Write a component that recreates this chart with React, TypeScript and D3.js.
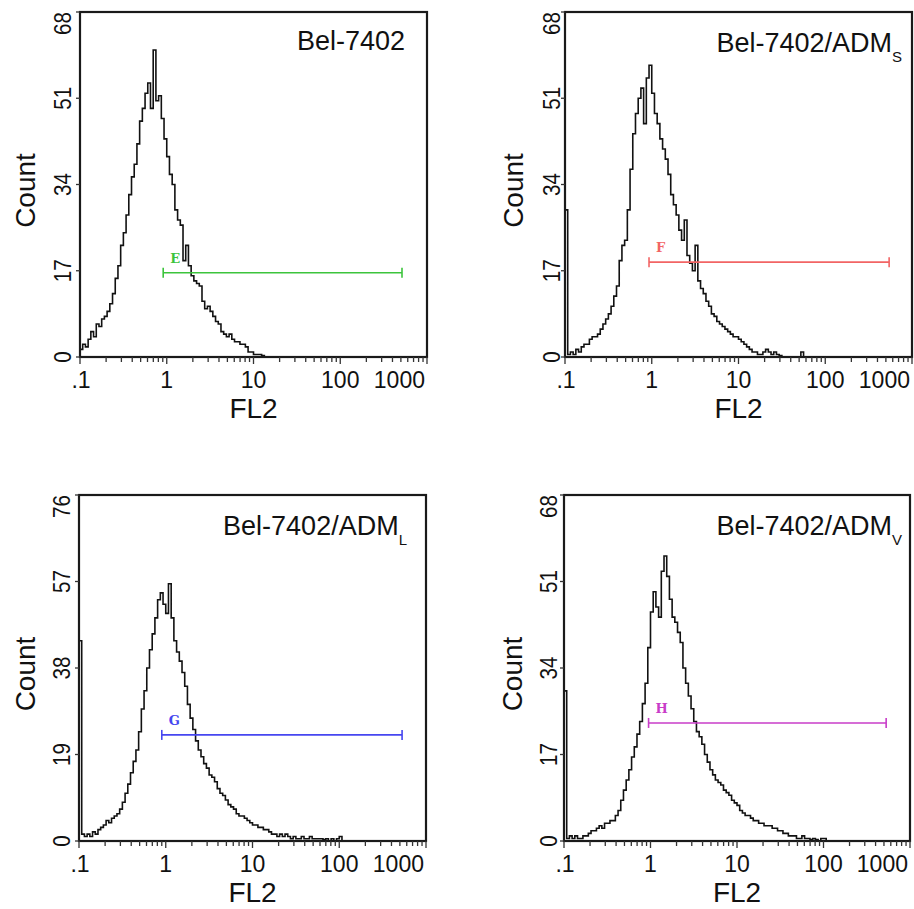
import React from "react";
import * as d3 from "d3";

// FL2 channels: 32 per decade, channel 0 sits at 0.1
const CH_PER_DECADE = 32;

// counts per channel
const countsBel7402 = [
  1.5, 2.5, 2, 3.5, 5, 4, 6.5, 6, 7.5, 8, 9, 10.5, 12.5, 15.5, 18, 22, 24.5, 28, 32, 35.5,
  38, 42, 46.5, 49, 52, 54, 49, 60.5, 50.5, 51.5, 47, 43, 39.5, 36, 34, 29, 27, 26, 19, 22,
  18, 16, 15, 14.5, 14, 11, 9.5, 10, 9, 8, 7, 6.5, 5, 4.5, 4, 4.5, 3.5, 3, 3, 2.5,
  2.5, 2, 1, 1, 0.5, 0.5, 0.5, 0.3, 0,
];
const countsADMs = [
  29, 0.5, 1, 0.5, 1.5, 1, 2, 2.5, 2.5, 3.5, 4, 4, 4.5, 5.5, 6.5, 7.5, 8.5, 10, 12, 14,
  19, 22, 23, 29, 37, 44, 48, 51, 53, 46, 55, 57.5, 52, 48, 46, 43, 41, 39, 36, 32,
  30, 28, 25, 23, 27, 20, 18.5, 17, 22, 15, 13.5, 12.5, 11, 10, 8.5, 8, 7, 6.5, 6, 5.5,
  5, 4.5, 4, 4, 3.5, 3, 2.5, 2, 1.5, 1, 1, 0.5, 0.5, 1, 1.5, 1, 0.5, 1, 0.5, 0.3,
  0, 0, 0, 0, 0, 0, 0, 1, 0,
];
const countsADMl = [
  44, 1.5, 1, 1.5, 1, 2, 1.5, 2.5, 3, 3.5, 4.5, 4, 5, 5.5, 6, 7, 8.5, 10.5, 12.5, 15,
  17.5, 20, 24, 29, 33, 38, 42, 45.5, 49, 53, 54.5, 52, 50, 56.5, 49, 44, 41.5, 39.5, 37, 34,
  30, 27, 24.5, 22, 20, 18.5, 17, 16, 14.5, 14, 13, 11.5, 10.5, 10, 9, 8, 7.5, 7, 6, 5.5,
  5.5, 5, 4.5, 4, 3.5, 3.5, 3, 3, 2.5, 2.5, 2, 1.5, 1.5, 1, 1.5, 1, 1.5, 1, 0.5, 1,
  0.5, 0.5, 1, 0.5, 0.5, 1, 0.5, 0.5, 0.5, 0.5, 0.3, 0.5, 0, 0.5, 0, 0.5, 1, 0,
];
const countsADMv = [
  29.5, 0.5, 1, 0.5, 1, 0.5, 0.5, 1, 1, 1.5, 2, 2, 2.5, 3, 2.5, 3.5, 3.5, 4, 4, 5,
  6, 8, 10, 12, 14, 16.5, 18.5, 21, 23.5, 27, 31, 38, 45, 49, 46, 44, 53, 56, 52, 47.5,
  44, 43, 41, 39, 34, 31, 28.5, 26, 23.5, 21.5, 20.5, 19, 17, 15.5, 14, 13, 12, 11.5, 11, 10,
  9.5, 9, 8, 7.5, 7, 6, 5.5, 5, 5, 4.5, 4, 4, 3.5, 3.5, 3, 3, 3, 2.5, 2.5, 2,
  2, 1.5, 1.5, 1, 1, 1, 0.5, 0.5, 1, 0.5, 0.5, 0.3, 0.5, 0.3, 0, 0.5, 0.5, 0,
];

const yMaxes = [68, 68, 76, 68];
const yTicksA = [0, 17, 34, 51, 68];
const yTicksB = [0, 19, 38, 57, 76];
const xTickValues = [0.1, 1, 10, 100, 1000];
const xTickLabels = [".1", "1", "10", "100", "1000"];

const titles = ["Bel-7402", "Bel-7402/ADM", "Bel-7402/ADM", "Bel-7402/ADM"];
const titleSubs = ["", "S", "L", "V"];

const gateNames = ["E", "F", "G", "H"];
const gateLow = [0.91, 0.93, 0.9, 0.95];
const gateHigh = [515, 545, 530, 530];
const gateLevel = [16.6, 18.7, 23.3, 23.2];
const gateColors = ["#3cc43c", "#f26464", "#4646f0", "#c83cc8"];

const panels = [
  { counts: countsBel7402, yTicks: yTicksA, left: 80, top: 12, w: 347, h: 345, tickLab: 9, countX: 45, titleR: 22 },
  { counts: countsADMs, yTicks: yTicksA, left: 565, top: 12, w: 347, h: 345, tickLab: 5, countX: 42, titleR: 10 },
  { counts: countsADMl, yTicks: yTicksB, left: 79, top: 495, w: 347, h: 346, tickLab: 9, countX: 44, titleR: 19 },
  { counts: countsADMv, yTicks: yTicksA, left: 564, top: 495, w: 346, h: 346, tickLab: 7, countX: 42, titleR: 8 },
];

const chToFL2 = (ch: number) => 0.1 * Math.pow(10, ch / CH_PER_DECADE);
const FONT = "'Liberation Sans', Arial, sans-serif";

function Panel({ idx }: { idx: number }) {
  const p = panels[idx];
  const x = d3.scaleLog().domain([0.1, 1000]).range([0, p.w]);
  const y = d3.scaleLinear().domain([0, yMaxes[idx]]).range([p.h, 0]);

  const pts: [number, number][] = [[x(0.1), y(0)]];
  p.counts.forEach((c, i) => pts.push([x(chToFL2(i)), y(c)]));
  pts.push([x(chToFL2(p.counts.length)), y(0)]);
  const path = d3.line().curve(d3.curveStepAfter)(pts) || "";

  const minor = x.ticks();
  const gy = y(gateLevel[idx]);
  const g0 = x(gateLow[idx]);
  const g1 = x(gateHigh[idx]);

  return (
    <g transform={`translate(${p.left},${p.top})`}>
      <path d={path} fill="none" stroke="#111" strokeWidth={1.6} strokeLinejoin="miter" />

      {/* gate marker */}
      <g stroke={gateColors[idx]} strokeWidth={1.6}>
        <line x1={g0} x2={g1} y1={gy} y2={gy} />
        <line x1={g0} x2={g0} y1={gy - 5} y2={gy + 5} />
        <line x1={g1} x2={g1} y1={gy - 5} y2={gy + 5} />
      </g>
      <text x={g0 + 7} y={gy - 10} fill={gateColors[idx]} fontFamily="'DejaVu Serif', serif"
        fontWeight="bold" fontSize={13}>{gateNames[idx]}</text>

      <rect x={0} y={0} width={p.w} height={p.h} fill="none" stroke="#1a1a1a" strokeWidth={2.2} />

      {/* x ticks under the axis */}
      {minor.map((t, i) => {
        const major = xTickValues.some((v) => Math.abs(v - t) / v < 1e-6);
        return <line key={i} x1={x(t)} x2={x(t)} y1={p.h} y2={p.h + (major ? 7 : 5)} stroke="#333" strokeWidth={1.3} />;
      })}
      {xTickValues.map((v, i) => (
        <text key={v} x={x(v) + (i === 0 ? 1 : i === 4 ? -2 : 0)} y={p.h + 31} fontFamily={FONT} fontSize={23}
          textAnchor={i === 4 ? "end" : "middle"} fill="#111">{xTickLabels[i]}</text>
      ))}
      <text x={p.w / 2} y={p.h + 61} fontFamily={FONT} fontSize={28} textAnchor="middle" fill="#111">FL2</text>

      {/* y ticks */}
      {p.yTicks.map((v, i) => (
        <g key={v}>
          <line x1={-4} x2={0} y1={y(v)} y2={y(v)} stroke="#333" strokeWidth={1.3} />
          <text transform={`translate(${-p.tickLab},${y(v)}) rotate(-90) scale(0.86,1)`} fontFamily={FONT} fontSize={24}
            textAnchor={i === p.yTicks.length - 1 ? "end" : "middle"} fill="#111">{v}</text>
        </g>
      ))}
      <text transform={`translate(${-p.countX},${p.h / 2 + 6}) rotate(-90)`} fontFamily={FONT} fontSize={28}
        textAnchor="middle" fill="#111">Count</text>

      <text x={p.w - p.titleR} y={idx === 0 ? 38 : 40} fontFamily={FONT} fontSize={27}
        textAnchor="end" fill="#111">
        {titles[idx]}
        {titleSubs[idx] && <tspan fontSize={15} dy={10}>{titleSubs[idx]}</tspan>}
      </text>
    </g>
  );
}

export default function App() {
  return (
    <svg width={914} height={909} style={{ position: "absolute", left: 0, top: 0, background: "#fff" }}>
      <rect width={914} height={909} fill="#fff" />
      {panels.map((_, i) => <Panel key={i} idx={i} />)}
    </svg>
  );
}
